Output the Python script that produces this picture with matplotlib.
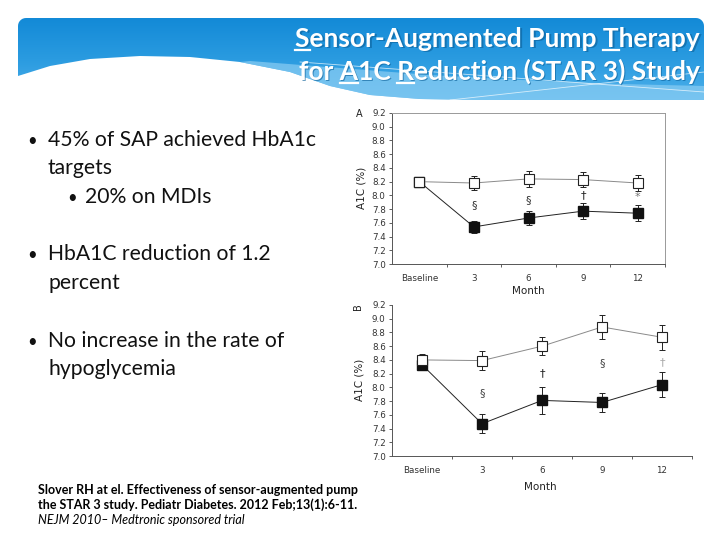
import matplotlib
matplotlib.use('Agg')
import matplotlib.pyplot as plt
import numpy as np
from matplotlib.patches import Polygon, Rectangle
from matplotlib.colors import LinearSegmentedColormap

# data (A1C %, mean and error)
months = ['Baseline', '3', '6', '9', '12']

a_ctrl = [8.20, 8.18, 8.24, 8.23, 8.18]
a_ctrl_err = [0.07, 0.10, 0.12, 0.11, 0.12]
a_sap = [8.20, 7.54, 7.67, 7.77, 7.74]
a_sap_err = [0.07, 0.09, 0.10, 0.12, 0.12]
a_sig = ['§', '§', '†', '*']
a_sig_y = [7.86, 7.93, 8.00, 7.98]

b_ctrl = [8.40, 8.39, 8.60, 8.88, 8.73]
b_ctrl_err = [0.09, 0.14, 0.13, 0.18, 0.18]
b_sap = [8.33, 7.47, 7.81, 7.78, 8.04]
b_sap_err = [0.08, 0.14, 0.20, 0.14, 0.18]
b_sig = ['§', '†', '§', '†']
b_sig_y = [7.92, 8.21, 8.35, 8.37]

yticks = [7.0, 7.2, 7.4, 7.6, 7.8, 8.0, 8.2, 8.4, 8.6, 8.8, 9.0, 9.2]

title1 = 'Sensor-Augmented Pump Therapy'
title2 = 'for A1C Reduction (STAR 3) Study'
bullets = ['45% of SAP achieved HbA1c', 'targets', '20% on MDIs',
           'HbA1C reduction of 1.2', 'percent',
           'No increase in the rate of', 'hypoglycemia']
cite = ['Slover RH at el. Effectiveness of sensor-augmented pump',
        'the STAR 3 study. Pediatr Diabetes. 2012 Feb;13(1):6-11.',
        'NEJM 2010\u2013 Medtronic sponsored trial']

W, H = 720, 540
fig = plt.figure(figsize=(7.2, 5.4), dpi=100)

# background axes in pixel coordinates
bg = fig.add_axes([0, 0, 1, 1])
bg.set_xlim(0, W)
bg.set_ylim(H, 0)
bg.axis('off')

# banner shape
r = 8
top = []
for a in np.linspace(np.pi, 1.5 * np.pi, 8):
    top.append((18 + r + r * np.cos(a), 18 + r + r * np.sin(a)))
for a in np.linspace(1.5 * np.pi, 2 * np.pi, 8):
    top.append((704 - r + r * np.cos(a), 18 + r + r * np.sin(a)))
wave_x = [704, 640, 560, 480, 420, 370, 330, 290, 240, 190, 140, 90, 50, 18]
wave_y = [100, 100, 100, 100, 99, 95, 86, 72, 62, 57, 56, 59, 66, 76]
shape = top + list(zip(wave_x, wave_y))
banner = Polygon(shape, closed=True, facecolor='none', edgecolor='none')
bg.add_patch(banner)
cmap = LinearSegmentedColormap.from_list('bn', ['#138ad7', '#2a9be0', '#4db0ea'])
grad = np.linspace(0, 1, 100).reshape(-1, 1)
im = bg.imshow(grad, extent=[18, 704, 100, 18], cmap=cmap, aspect='auto',
               origin='upper', zorder=1)
im.set_clip_path(banner)

# lighter band along the wave
band_top_x = [250, 340, 430, 520, 620, 704]
band_top_y = [61, 68, 75, 80, 84, 86]
band = list(zip(band_top_x, band_top_y)) + list(zip(wave_x[:9], wave_y[:9]))
bg.add_patch(Polygon(band, closed=True, facecolor='#8acdf3', edgecolor='none',
                     alpha=0.7, zorder=2))
bg.plot([300, 704], [62, 92], color='white', lw=0.6, alpha=0.7, zorder=2)
bg.plot([450, 704], [100, 72], color='white', lw=0.6, alpha=0.7, zorder=2)

# title with underlined initials
fig.canvas.draw()
rend = fig.canvas.get_renderer()
tkw = dict(fontsize=19, family='Lato', fontweight='bold', color='white')


def text_w(s):
    t = bg.text(0, 0, s + '|', **tkw)
    w1 = t.get_window_extent(rend).width
    t.set_text('|')
    w2 = t.get_window_extent(rend).width
    t.remove()
    return w1 - w2


for line, yb, under in [(title1, 47, [0, 22]), (title2, 80, [4, 8])]:
    full = text_w(line)
    x0 = 700 - full
    bg.text(x0 + 1.2, yb + 1.2, line, ha='left', va='baseline', zorder=3,
            **dict(tkw, color='#0b5f98', alpha=0.6))
    bg.text(x0, yb, line, ha='left', va='baseline', zorder=4, **tkw)
    for i in under:
        xa = x0 + text_w(line[:i])
        xb = x0 + text_w(line[:i + 1])
        bg.plot([xa, xb], [yb + 3, yb + 3], color='white', lw=1.6, zorder=4)

# bullet text
bkw = dict(fontsize=15.2, family='Lato', color='#111111', va='baseline')
rows = [(0, 146, True), (0, 174, False), (1, 203, True),
        (0, 260, True), (0, 289, False), (0, 347, True), (0, 375, False)]
for (lvl, yb, dot), s in zip(rows, bullets):
    if lvl == 0:
        xd, xt = 27, 48
    else:
        xd, xt = 67, 85
    if dot:
        bg.text(xd, yb, '\u2022', fontsize=12, family='Lato', color='#111111',
                va='baseline')
    bg.text(xt, yb, s, **bkw)

# citation, partly hidden under the figure image
ckw = dict(fontsize=9, family='Lato', color='black', va='baseline', zorder=3)
bg.text(38, 494, cite[0], fontweight='bold', **ckw)
bg.text(38, 509, cite[1], fontweight='bold', **ckw)
bg.text(38, 524, cite[2], fontstyle='italic', **ckw)
bg.add_patch(Rectangle((361, 296), 350, 210, facecolor='white',
                       edgecolor='none', zorder=5))

# panel labels
fs_small = 6.3
lkw = dict(family='DejaVu Sans', color='#222222')
bg.text(359, 114, 'A', fontsize=7, ha='center', va='center', zorder=6, **lkw)
bg.text(358, 307, 'B', fontsize=7, ha='center', va='center', rotation=90,
        zorder=6, **lkw)
bg.text(361, 188, 'A1C (%)', fontsize=7.5, rotation=90, ha='center',
        va='center', zorder=6, **lkw)
bg.text(359, 380, 'A1C (%)', fontsize=7.5, rotation=90, ha='center',
        va='center', zorder=6, **lkw)
bg.text(528, 291, 'Month', fontsize=7.5, ha='center', va='center', zorder=6, **lkw)
bg.text(540, 487, 'Month', fontsize=7.5, ha='center', va='center', zorder=6, **lkw)


def panel(rect, ctrl, ctrl_err, sap, sap_err, sig, sig_y, sig_col, boxed):
    ax = fig.add_axes([rect[0] / W, 1 - rect[3] / H, (rect[2] - rect[0]) / W,
                       (rect[3] - rect[1]) / H])
    ax.set_zorder(6)
    ax.patch.set_alpha(0)
    x = np.arange(len(months))
    ax.errorbar(x, ctrl, yerr=ctrl_err, fmt='none', ecolor='#222222',
                elinewidth=0.7, capsize=2.5, capthick=0.7, zorder=2)
    ax.errorbar(x, sap, yerr=sap_err, fmt='none', ecolor='#222222',
                elinewidth=0.7, capsize=2.5, capthick=0.7, zorder=2)
    ax.plot(x, sap, color='#222222', lw=0.7, marker='s', ms=7,
            mfc='#111111', mec='#111111', zorder=3)
    ax.plot(x, ctrl, color='#8a8a8a', lw=0.7, marker='s', ms=7,
            mfc='white', mec='#222222', mew=0.8, zorder=4)
    for xi, s, yv, c in zip(x[1:], sig, sig_y, sig_col):
        ax.text(xi, yv, s, ha='center', va='center', fontsize=8,
                color=c, family='DejaVu Sans')
    ax.set_xlim(-0.5, 4.5)
    ax.set_ylim(7.0, 9.2)
    ax.set_yticks(yticks)
    ax.set_yticklabels(['%.1f' % v for v in yticks])
    ax.set_xticks(x)
    ax.set_xticklabels(months)
    ax.set_xticks([0.5, 1.5, 2.5, 3.5, 4.5], minor=True)
    ax.tick_params(axis='x', which='major', length=0, pad=7,
                   labelsize=fs_small, labelcolor='#333333')
    ax.tick_params(axis='x', which='minor', length=2.5, width=0.6,
                   direction='out', color='#444444')
    ax.tick_params(axis='y', length=2.5, width=0.6, pad=2,
                   labelsize=fs_small, labelcolor='#333333', color='#444444')
    for lab in ax.get_xticklabels() + ax.get_yticklabels():
        lab.set_family('DejaVu Sans')
    for side in ['top', 'right', 'left', 'bottom']:
        ax.spines[side].set_linewidth(0.7)
        ax.spines[side].set_color('#555555')
    if boxed:
        ax.spines['top'].set_color('#999999')
        ax.spines['right'].set_color('#999999')
    else:
        ax.spines['top'].set_visible(False)
        ax.spines['right'].set_visible(False)
    return ax


panel((392, 113, 665, 264), a_ctrl, a_ctrl_err, a_sap, a_sap_err,
      a_sig, a_sig_y, ['#333333', '#333333', '#222222', '#777777'], True)
panel((392, 305, 692, 456), b_ctrl, b_ctrl_err, b_sap, b_sap_err,
      b_sig, b_sig_y, ['#444444', '#222222', '#444444', '#aaaaaa'], False)

fig.savefig('out.png', dpi=100)
